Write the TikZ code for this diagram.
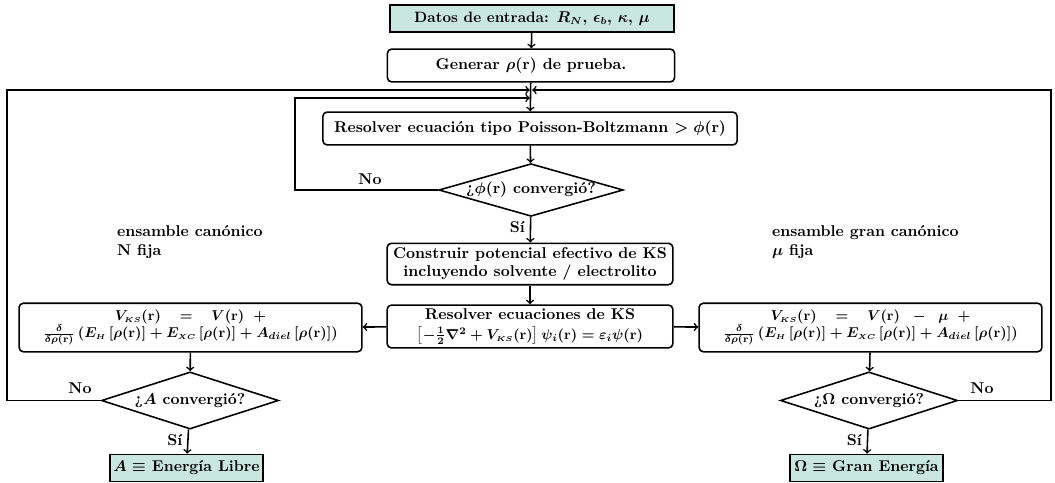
\documentclass[tikz,border=0pt]{standalone}
\usepackage{amsmath}
\usepackage{bm}
\usetikzlibrary{shapes.geometric}
\definecolor{verdeagua}{RGB}{202,231,223}

\begin{document}
\begin{tikzpicture}[x=0.7pt,y=-0.7pt,
		every node/.style={font=\fontsize{10.95}{13}\selectfont\bfseries\boldmath},
		chica/.style={font=\fontsize{10}{12}\selectfont\bfseries\boldmath},
		caja/.style={draw,line width=1.1pt,rounded corners=3pt,align=center,inner sep=2pt},
		inicio/.style={draw,line width=1.1pt,fill=verdeagua,align=center,inner sep=2pt},
		decision/.style={draw,line width=1.1pt,diamond,aspect=3.5,inner sep=0pt,minimum width=124pt,minimum height=36pt},
		etiq/.style={align=left,anchor=west},
		flecha/.style={line width=1.1pt,->}]
		\useasboundingbox (0,0) rectangle (1055,482);
		% bloque central
		\node[inicio,font=\fontsize{10.5}{12}\selectfont\bfseries\boldmath,minimum width=199pt,minimum height=19pt] at (532,18.5) (datos) {Datos de entrada: $R_N$, $\epsilon_b$, $\kappa$, $\mu$};
		\node[caja,minimum width=201pt,minimum height=23pt] at (531,65.5) (generar) {Generar $\rho(\mathbf{r})$ de prueba.};
		\node[caja,minimum width=290pt,minimum height=23pt] at (530,128.5) (pb) {Resolver ecuación tipo Poisson-Boltzmann $>\phi(\mathbf{r})$};
		\node[decision] at (531,190) (dphi) {¿$\phi(\mathbf{r})$ convergió?};
		\node[caja,minimum width=200pt,minimum height=29pt] at (530,264) (construir) {Construir potencial efectivo de KS\\incluyendo solvente / electrolito};
		\node[caja,minimum width=200pt,minimum height=30pt] at (530,326.5) (ks) {Resolver ecuaciones de KS\\[1pt]{\fontsize{10}{12}\selectfont$\left[-\frac{1}{2}\nabla^2+V_{\scriptscriptstyle KS}(\mathbf{r})\right]\psi_i(\mathbf{r})=\varepsilon_i\psi(\mathbf{r})$}};
		% canonico
		\node[etiq] at (112,242) (canon) {ensamble canónico\\N fija};
		\node[caja,chica,minimum width=240pt,minimum height=34pt] at (190.5,327.5) (vksA) {$V_{\scriptscriptstyle KS}(\mathbf{r})\quad=\quad V(\mathbf{r})\;\;+$\\$\frac{\delta}{\delta\rho(\mathbf{r})}\left(E_{\scriptscriptstyle H}\left[\rho(\mathbf{r})\right]+E_{\scriptscriptstyle XC}\left[\rho(\mathbf{r})\right]+A_{diel}\left[\rho(\mathbf{r})\right]\right)$};
		\node[decision,minimum height=40pt] at (190,400.5) (dA) {¿$A$ convergió?};
		\node[inicio,minimum width=107pt,minimum height=19pt] at (186.5,468) (finA) {$A\equiv$ Energía Libre};
		% gran canonico
		\node[etiq] at (767,242) (gcanon) {ensamble gran canónico\\$\mu$ fija};
		\node[caja,chica,minimum width=240pt,minimum height=34pt] at (870.5,327.5) (vksO) {$V_{\scriptscriptstyle KS}(\mathbf{r})\quad=\quad V(\mathbf{r})\;\;-\;\;\mu\;\;+$\\$\frac{\delta}{\delta\rho(\mathbf{r})}\left(E_{\scriptscriptstyle H}\left[\rho(\mathbf{r})\right]+E_{\scriptscriptstyle XC}\left[\rho(\mathbf{r})\right]+A_{diel}\left[\rho(\mathbf{r})\right]\right)$};
		\node[decision,minimum height=40pt] at (869,400.5) (dO) {¿$\Omega$ convergió?};
		\node[inicio,minimum width=107pt,minimum height=19pt] at (866.5,468) (finO) {$\Omega\equiv$ Gran Energía};
		% puntos de los lazos
		\coordinate (izq) at (7,90);
		\coordinate (der) at (1051,90);
		\coordinate (lazo) at (295,98);
		\coordinate (j1) at (531,90);
		\coordinate (j2) at (531,98);
		% conectores
		\draw[flecha] (datos) -- (generar);
		\draw[flecha] (generar) -- (pb);
		\draw[flecha] (pb) -- (dphi);
		\draw[flecha] (dphi) -- node[left,pos=0.4] (si1) {Sí} (construir);
		\draw[flecha] (construir) -- (ks);
		\draw[flecha] (ks) -- (vksA);
		\draw[flecha] (ks) -- (vksO);
		\draw[flecha] (vksA) -- (dA);
		\draw[flecha] (vksO) -- (dO);
		\draw[flecha] (dA) -- node[left,pos=0.45] (si2) {Sí} (finA);
		\draw[flecha] (dO) -- node[left,pos=0.45] (si3) {Sí} (finO);
		\draw[flecha,shorten >=0.8pt] (dphi.west) -| (lazo) -- (j2);
		\draw[flecha,shorten >=0.8pt] (dA.west) -| (izq) -- (j1);
		\draw[flecha,shorten >=0.8pt] (dO.east) -| (der) -- (j1);
		\node at (370,179) (no1) {No};
		\node at (80,388) (no2) {No};
		\node at (982,388) (no3) {No};
	\end{tikzpicture}
\end{document}
